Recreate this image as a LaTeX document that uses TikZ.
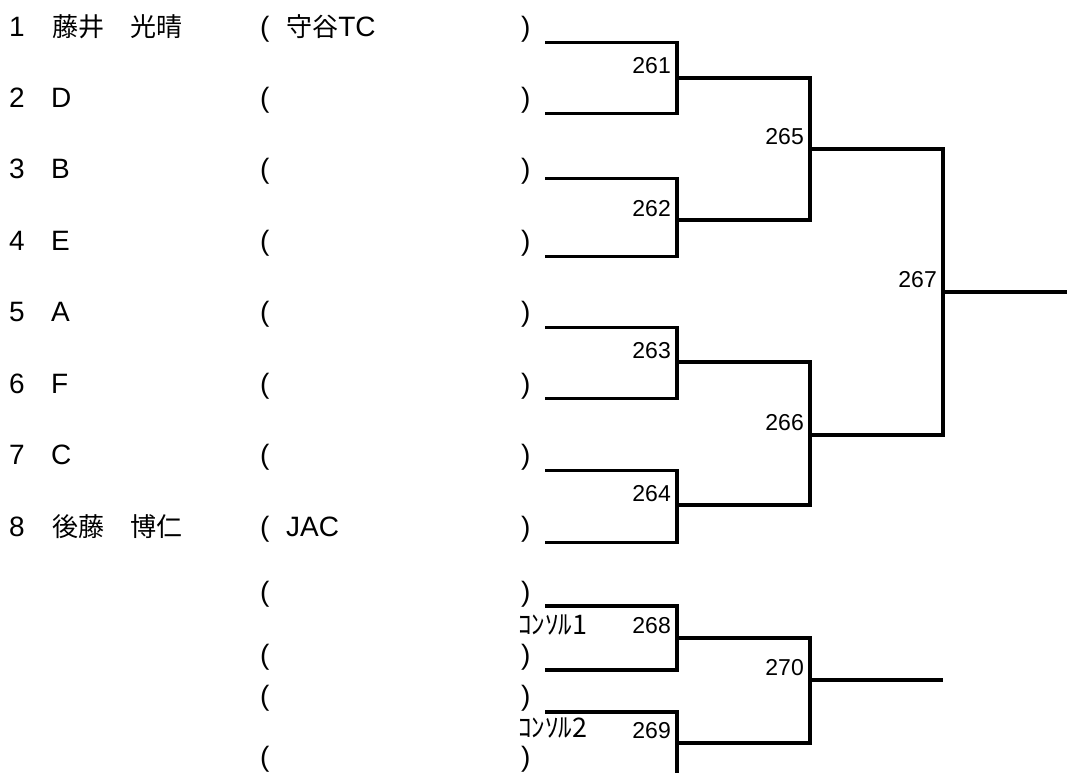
\documentclass[tikz,border=0pt]{standalone}
\usepackage{fontspec}
\setmainfont{Liberation Sans}
\newfontfamily\jpfont[Scale=0.93]{Noto Sans CJK JP}

\begin{document}
\begin{tikzpicture}[x=1pt,y=-1pt]
	\tikzstyle{Entry} = [inner sep=0pt, anchor=base west, font=\fontsize{28}{33}\selectfont]
	\tikzstyle{Consol} = [inner sep=0pt, anchor=base west, font=\fontsize{29}{34}\selectfont\jpfont]
	\tikzstyle{MatchNo} = [inner sep=0pt, anchor=base east, font=\fontsize{23}{27}\selectfont]
	\tikzstyle{bracket} = [line width=3.2pt, black]
	
	%\draw[step=50,gray,very thin] (0,0) grid (1067,772);
	\useasboundingbox (0,0) rectangle (1067,772);
	
	% players
	\node (no1) [Entry] at (9,36) {1};
	\node (name1) [Entry] at (52,36) {\jpfont 藤井　光晴};
	\node (lp1) [Entry] at (260,36) {(};
	\node (club1) [Entry] at (286,36) {{\jpfont 守谷}TC};
	\node (rp1) [Entry] at (521,36) {)};
	\foreach \i/\y/\t in {2/107.4/D,3/178.9/B,4/250.3/E,5/321.7/A,6/393.1/F,7/464.6/C} {
		\node (no\i) [Entry] at (9,\y) {\i};
		\node (name\i) [Entry] at (51,\y) {\t};
		\node (lp\i) [Entry] at (260,\y) {(};
		\node (rp\i) [Entry] at (521,\y) {)};
	}
	\node (no8) [Entry] at (9,536) {8};
	\node (name8) [Entry] at (52,536) {\jpfont 後藤　博仁};
	\node (lp8) [Entry] at (260,536) {(};
	\node (club8) [Entry] at (286,536) {JAC};
	\node (rp8) [Entry] at (521,536) {)};
	\foreach \i/\y in {9/601,10/664,11/705,12/766} {
		\node (lp\i) [Entry] at (260,\y) {(};
		\node (rp\i) [Entry] at (521,\y) {)};
	}
	\node (cons1) [Consol] at (518,634) {ｺﾝｿﾙ1};
	\node (cons2) [Consol] at (518,737) {ｺﾝｿﾙ2};
	
	% draw lines
	\coordinate (p1) at (545,42.7);
	\coordinate (p2) at (545,113.3);
	\coordinate (p3) at (545,178.7);
	\coordinate (p4) at (545,256.7);
	\coordinate (p5) at (545,327.3);
	\coordinate (p6) at (545,398.7);
	\coordinate (p7) at (545,470.7);
	\coordinate (p8) at (545,542.3);
	\coordinate (c1) at (545,606);
	\coordinate (c2) at (545,670);
	\coordinate (c3) at (545,712);
	\coordinate (c4) at (545,780);
	
	\coordinate (m261) at (677,78);
	\coordinate (m262) at (677,220);
	\coordinate (m263) at (677,362);
	\coordinate (m264) at (677,505);
	\coordinate (m265) at (810,149);
	\coordinate (m266) at (810,435);
	\coordinate (m267) at (943,292);
	\coordinate (m268) at (677,638);
	\coordinate (m269) at (677,743);
	\coordinate (m270) at (810,680);
	\coordinate (win267) at (1070,292);
	\coordinate (win270) at (943,680);
	
	\draw [bracket] (p1) -| (m261) |- (p2);
	\draw [bracket] (p3) -| (m262) |- (p4);
	\draw [bracket] (p5) -| (m263) |- (p6);
	\draw [bracket] (p7) -| (m264) |- (p8);
	\draw [bracket] (m261) -| (m265) |- (m262);
	\draw [bracket] (m263) -| (m266) |- (m264);
	\draw [bracket] (m265) -| (m267) |- (m266);
	\draw [bracket] (m267) -- (win267);
	\draw [bracket] (c1) -| (m268) |- (c2);
	\draw [bracket] (c3) -| (m269) |- (c4);
	\draw [bracket] (m268) -| (m270) |- (m269);
	\draw [bracket] (m270) -- (win270);
	
	% match numbers
	\node (n261) [MatchNo] at (671,73) {261};
	\node (n262) [MatchNo] at (671,216) {262};
	\node (n263) [MatchNo] at (671,358) {263};
	\node (n264) [MatchNo] at (671,501) {264};
	\node (n265) [MatchNo] at (804,144) {265};
	\node (n266) [MatchNo] at (804,430) {266};
	\node (n267) [MatchNo] at (937,287) {267};
	\node (n268) [MatchNo] at (671,633) {268};
	\node (n269) [MatchNo] at (671,738) {269};
	\node (n270) [MatchNo] at (804,675) {270};
\end{tikzpicture}
\end{document}
